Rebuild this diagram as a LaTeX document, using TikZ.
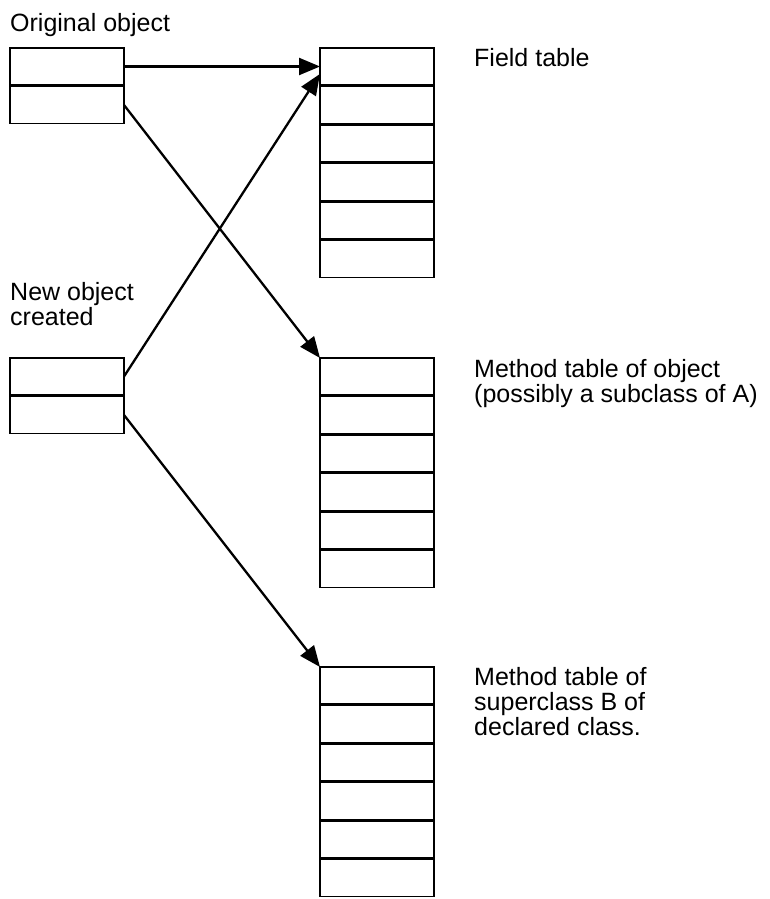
\documentclass[tikz,border=0pt]{standalone}
\usepackage{fontspec}
\setmainfont{Liberation Sans}
\usetikzlibrary{arrows.meta,positioning,calc}
\begin{document}
\begin{tikzpicture}[x=1pt,y=-1pt,
        cell/.style={draw, line width=1.9pt, minimum width=114pt, minimum height=37pt,
            inner sep=0pt, outer sep=0pt, anchor=north west},
        note/.style={anchor=north west, align=left, inner sep=0pt,
            font=\fontsize{25}{25}\selectfont},
        pointer/.style={line width=2.3pt, -{Triangle[length=21pt,width=17pt]}}]
    \useasboundingbox (0,0) rectangle (770,899);
    % objects on the left
    \node [note] (orig) at (10,13) {Original object};
    \node [cell] (o1) at (10,48) {};
    \node [cell] (o2) at (10,86.5) {};
    \node [note] (new) at (10,282) {New object\\created};
    \node [cell] (n1) at (10,358) {};
    \node [cell] (n2) at (10,396.5) {};
    % tables on the right
    \foreach \i in {1,...,6} {
        \node [cell] (f\i) at (320,{48+38.5*(\i-1)}) {};
        \node [cell] (m\i) at (320,{358+38.5*(\i-1)}) {};
        \node [cell] (s\i) at (320,{667+38.5*(\i-1)}) {};
    }
    \node [note] (ftext) at (474,48) {Field table};
    \node [note] (mtext) at (474,359) {Method table of object\\(possibly a subclass of A)};
    \node [note] (stext) at (474,667) {Method table of\\superclass B of\\declared class.};
    % pointers
    \draw [pointer] (o1.east) -- (f1.west);
    \draw [pointer] (o2.east) -- (m1.north west);
    \draw [pointer] (n1.east) -- ($(f1.west)!0.4!(f1.south west)$);
    \draw [pointer] (n2.east) -- (s1.north west);
\end{tikzpicture}
\end{document}
